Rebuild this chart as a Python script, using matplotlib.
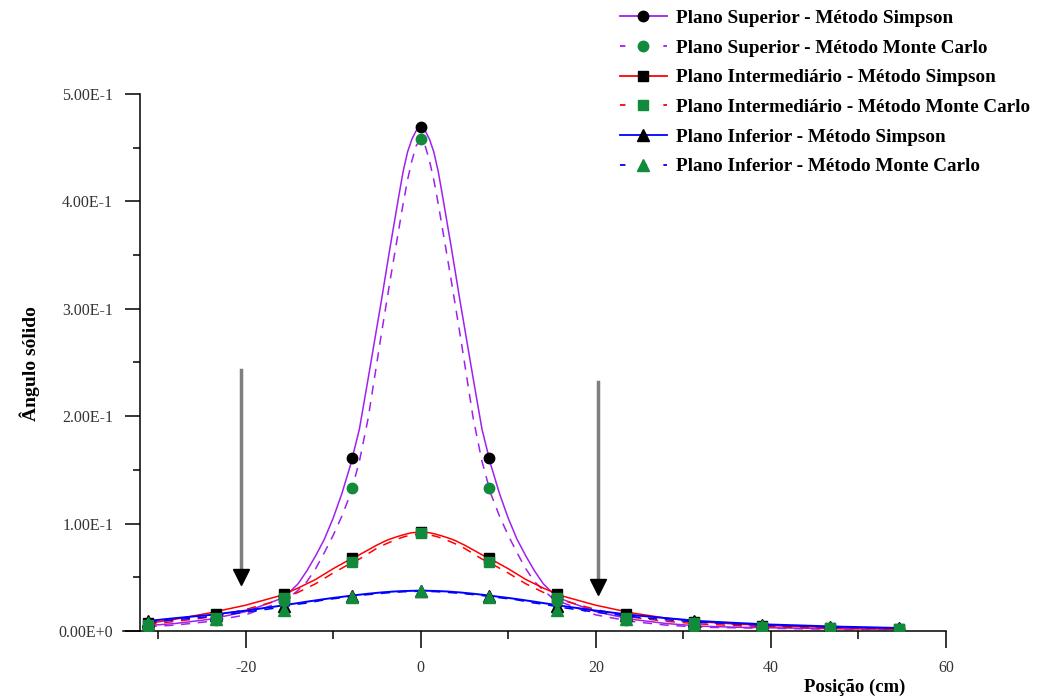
import matplotlib
matplotlib.use("Agg")
import matplotlib.pyplot as plt
import numpy as np
from matplotlib.lines import Line2D
from matplotlib.ticker import MultipleLocator, FuncFormatter

plt.rcParams['font.family'] = ['Liberation Serif', 'DejaVu Serif']
plt.rcParams['axes.unicode_minus'] = False

# posições dos pontos calculados (cm)
x_pts = [-31.2, -23.4, -15.6, -7.8, 0, 7.8, 15.6, 23.4, 31.2, 39.0, 46.8, 54.6]
sup_simp_pts = [0.005, 0.012, 0.032, 0.161, 0.469, 0.161, 0.032, 0.012, 0.005, 0.003, 0.002, 0.0015]
sup_mc_pts = [0.004, 0.010, 0.028, 0.133, 0.458, 0.133, 0.028, 0.010, 0.004, 0.0025, 0.0015, 0.001]
int_simp_pts = [0.007, 0.016, 0.034, 0.068, 0.092, 0.068, 0.034, 0.016, 0.0085, 0.005, 0.003, 0.002]
int_mc_pts = [0.006, 0.012, 0.031, 0.0645, 0.091, 0.0645, 0.031, 0.012, 0.007, 0.004, 0.0025, 0.0015]
inf_simp_pts = [0.0093, 0.015, 0.023, 0.033, 0.0375, 0.033, 0.023, 0.015, 0.0093, 0.006, 0.004, 0.003]
inf_mc_pts = [0.0075, 0.011, 0.020, 0.032, 0.037, 0.032, 0.020, 0.011, 0.0075, 0.0045, 0.003, 0.002]

# curvas
x_curve = [-31.2, -28, -24, -20,
           -16, -15, -14, -13, -12, -11, -10, -9, -8, -7, -6, -5,
           -4.5, -4, -3.5, -3, -2.5, -2, -1.5, -1, -0.5,
           0,
           0.5, 1, 1.5, 2, 2.5, 3, 3.5, 4, 4.5,
           5, 6, 7, 8, 9, 10, 11, 12, 13, 14, 15, 16,
           20, 24, 28, 32, 36, 40, 44, 48, 52, 54.6]
sup_simp_curve = [0.005, 0.007, 0.011, 0.018,
                  0.030, 0.036, 0.044, 0.056, 0.070, 0.0855, 0.105, 0.128, 0.155, 0.188, 0.235, 0.283,
                  0.307, 0.332, 0.357, 0.381, 0.405, 0.428, 0.446, 0.458, 0.466,
                  0.469,
                  0.466, 0.458, 0.446, 0.428, 0.405, 0.381, 0.357, 0.332, 0.307,
                  0.283, 0.235, 0.188, 0.155, 0.128, 0.105, 0.0855, 0.070, 0.056, 0.044, 0.036, 0.030,
                  0.018, 0.011, 0.007, 0.0045, 0.0035, 0.003, 0.0025, 0.002, 0.002, 0.0015]
sup_mc_curve = [0.004, 0.0055, 0.009, 0.015,
                0.027, 0.031, 0.038, 0.046, 0.058, 0.073, 0.089, 0.107, 0.128, 0.158, 0.198, 0.250,
                0.276, 0.301, 0.326, 0.350, 0.374, 0.398, 0.420, 0.438, 0.452,
                0.458,
                0.452, 0.438, 0.420, 0.398, 0.374, 0.350, 0.326, 0.301, 0.276,
                0.250, 0.198, 0.158, 0.128, 0.107, 0.089, 0.073, 0.058, 0.046, 0.038, 0.031, 0.027,
                0.015, 0.009, 0.0055, 0.0035, 0.003, 0.0025, 0.002, 0.0015, 0.0015, 0.001]
int_simp_curve = [0.007, 0.011, 0.017, 0.024,
                  0.033, 0.0365, 0.040, 0.044, 0.048, 0.053, 0.058, 0.0625, 0.067, 0.071, 0.0755, 0.080,
                  0.082, 0.084, 0.0856, 0.087, 0.0883, 0.0895, 0.0906, 0.0915, 0.0918,
                  0.092,
                  0.0918, 0.0915, 0.0906, 0.0895, 0.0883, 0.087, 0.0856, 0.084, 0.082,
                  0.080, 0.0755, 0.071, 0.067, 0.0625, 0.058, 0.053, 0.048, 0.044, 0.040, 0.0365, 0.033,
                  0.024, 0.017, 0.012, 0.0085, 0.0065, 0.005, 0.004, 0.003, 0.0025, 0.002]
int_mc_curve = [0.006, 0.009, 0.013, 0.020,
                0.029, 0.0325, 0.036, 0.040, 0.044, 0.049, 0.054, 0.0585, 0.063, 0.067, 0.072, 0.077,
                0.079, 0.081, 0.0828, 0.0845, 0.086, 0.0875, 0.0886, 0.0895, 0.0898,
                0.090,
                0.0898, 0.0895, 0.0886, 0.0875, 0.086, 0.0845, 0.0828, 0.081, 0.079,
                0.077, 0.072, 0.067, 0.063, 0.0585, 0.054, 0.049, 0.044, 0.040, 0.036, 0.0325, 0.029,
                0.020, 0.013, 0.009, 0.0065, 0.005, 0.004, 0.003, 0.0025, 0.002, 0.0015]
inf_simp_curve = [0.0093, 0.012, 0.015, 0.019,
                  0.0235, 0.0248, 0.026, 0.0273, 0.0285, 0.0297, 0.0308, 0.0318, 0.0328, 0.0338, 0.0347, 0.0355,
                  0.0359, 0.0362, 0.0365, 0.0368, 0.037, 0.0372, 0.0373, 0.0374, 0.0375,
                  0.0375,
                  0.0375, 0.0374, 0.0373, 0.0372, 0.037, 0.0368, 0.0365, 0.0362, 0.0359,
                  0.0355, 0.0347, 0.0338, 0.0328, 0.0318, 0.0308, 0.0297, 0.0285, 0.0273, 0.026, 0.0248, 0.0235,
                  0.019, 0.015, 0.012, 0.0092, 0.0075, 0.006, 0.005, 0.004, 0.0033, 0.0028]
inf_mc_curve = [0.008, 0.0105, 0.0135, 0.0175,
                0.022, 0.0235, 0.025, 0.026, 0.0275, 0.029, 0.030, 0.031, 0.032, 0.033, 0.0339, 0.0347,
                0.035, 0.0354, 0.0357, 0.036, 0.0363, 0.0365, 0.0367, 0.0368, 0.0369,
                0.037,
                0.0369, 0.0368, 0.0367, 0.0365, 0.0363, 0.036, 0.0357, 0.0354, 0.035,
                0.0347, 0.0339, 0.033, 0.032, 0.031, 0.030, 0.029, 0.0275, 0.026, 0.025, 0.0235, 0.022,
                0.0175, 0.0135, 0.0105, 0.008, 0.0065, 0.0052, 0.0043, 0.0035, 0.003, 0.0025]

labels = ['Plano Superior - Método Simpson', 'Plano Superior - Método Monte Carlo',
          'Plano Intermediário - Método Simpson', 'Plano Intermediário - Método Monte Carlo',
          'Plano Inferior - Método Simpson', 'Plano Inferior - Método Monte Carlo']

roxo = '#a020f0'
verde = '#118a3c'
tracejado = (0, (6, 5))

fig = plt.figure(figsize=(10.42, 6.96), dpi=100)
ax = fig.add_axes([123/1042, 65/696, 823/1042, 537/696])

# curvas
ax.plot(x_curve, sup_simp_curve, color=roxo, lw=1.1, zorder=2)
ax.plot(x_curve, sup_mc_curve, color=roxo, lw=1.1, ls=tracejado, zorder=2)
ax.plot(x_curve, int_simp_curve, color='red', lw=1.1, zorder=2)
ax.plot(x_curve, int_mc_curve, color='red', lw=1.1, ls=tracejado, zorder=2)
ax.plot(x_curve, inf_simp_curve, color='blue', lw=1.4, zorder=2)
ax.plot(x_curve, inf_mc_curve, color='blue', lw=1.1, ls=tracejado, zorder=2)

# pontos
ax.plot(x_pts, sup_simp_pts, ls='none', marker='o', ms=7.5, color='black', zorder=3)
ax.plot(x_pts, int_simp_pts, ls='none', marker='s', ms=7.5, color='black', zorder=3)
ax.plot(x_pts, inf_simp_pts, ls='none', marker='^', ms=9, color='black', zorder=3)
ax.plot(x_pts, sup_mc_pts, ls='none', marker='o', ms=7.5, color=verde, zorder=4)
ax.plot(x_pts, int_mc_pts, ls='none', marker='s', ms=7.5, color=verde, zorder=4)
ax.plot(x_pts, inf_mc_pts, ls='none', marker='^', ms=9, color=verde, zorder=4)

# setas
for xa, y0, y1 in [(-20.5, 0.243, 0.050), (20.3, 0.232, 0.041)]:
    ax.plot([xa, xa], [y0, y1 + 0.005], color='#7f7f7f', lw=2.5, zorder=1)
    ax.plot([xa], [y1], marker='v', ms=11, color='black', zorder=1)

ax.set_xlim(-34, 60)
ax.set_ylim(0, 0.5)
ax.spines['left'].set_position(('data', -32.1))
ax.spines['top'].set_visible(False)
ax.spines['right'].set_visible(False)
for s in ['left', 'bottom']:
    ax.spines[s].set_linewidth(1.1)

ax.xaxis.set_major_locator(MultipleLocator(20))
ax.xaxis.set_minor_locator(MultipleLocator(10))
ax.yaxis.set_major_locator(MultipleLocator(0.1))
ax.yaxis.set_minor_locator(MultipleLocator(0.05))


def fmt_e(v, pos):
    if abs(v) < 1e-12:
        return '0.00E+0'
    e = int(np.floor(np.log10(abs(v)) + 1e-9))
    return f'{v / 10**e:.2f}E{e:+d}'


ax.yaxis.set_major_formatter(FuncFormatter(fmt_e))
ax.tick_params(axis='x', which='major', length=12, width=1.1, pad=9, labelsize=11.5,
               labelcolor='#333333')
ax.tick_params(axis='x', which='minor', length=6, width=1.1)
ax.tick_params(axis='y', which='major', length=11, width=1.1, pad=8, labelsize=11.5,
               labelcolor='#333333')
ax.tick_params(axis='y', which='minor', length=5, width=1.1)

fig.text(30/1042, 1 - 364/696, 'Ângulo sólido', rotation=90, ha='center', va='center',
         fontsize=14, fontweight='bold')
fig.text(855/1042, 1 - 687/696, 'Posição (cm)', ha='center', va='center',
         fontsize=13.5, fontweight='bold')

# legenda
handles = [
    Line2D([], [], color=roxo, lw=1.3, marker='o', ms=7.5, mfc='black', mec='black'),
    Line2D([], [], color=roxo, lw=1.3, ls=(0, (3, 9)), marker='o', ms=7.5, mfc=verde, mec=verde),
    Line2D([], [], color='red', lw=1.3, marker='s', ms=7.5, mfc='black', mec='black'),
    Line2D([], [], color='red', lw=1.3, ls=(0, (3, 9)), marker='s', ms=7.5, mfc=verde, mec=verde),
    Line2D([], [], color='blue', lw=1.3, marker='^', ms=9, mfc='black', mec='black'),
    Line2D([], [], color='blue', lw=1.3, ls=(0, (3, 9)), marker='^', ms=9, mfc=verde, mec=verde),
]
fig.legend(handles, labels, loc='upper left', bbox_to_anchor=(610/1042, 1.0),
           frameon=False, prop={'family': 'Liberation Serif', 'weight': 'bold', 'size': 13.8},
           handlelength=2.45, handletextpad=0.5, labelspacing=0.64, borderpad=0.0)

fig.savefig('out.png', dpi=100)
